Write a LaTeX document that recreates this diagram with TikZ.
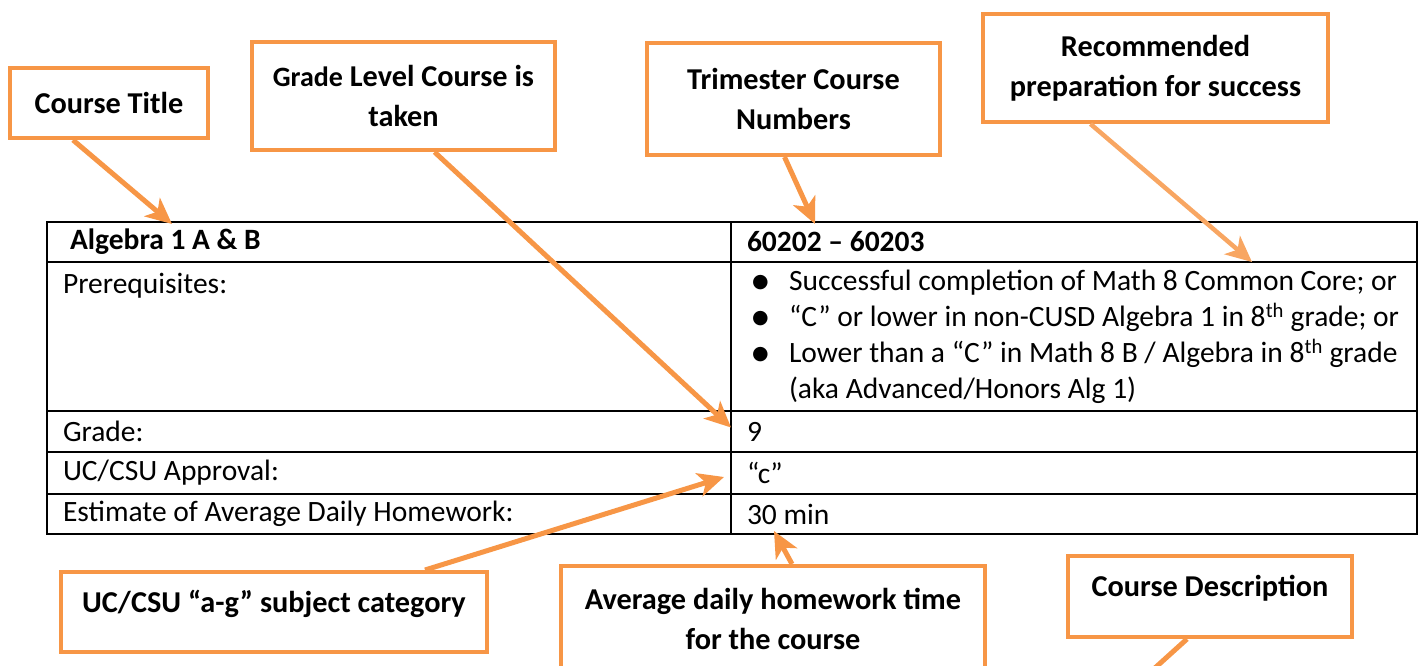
\documentclass[tikz,border=0pt]{standalone}
\usepackage{fontspec}
\setmainfont{Carlito}
\newfontfamily\dotfont{DejaVu Sans}
\usetikzlibrary{positioning, arrows.meta}

\definecolor{calloutorange}{RGB}{247,150,70}
\newcommand{\tablefont}{\fontsize{29.5}{36}\selectfont}
\newcommand{\calloutfont}{\fontsize{30.3}{40}\selectfont\bfseries}
\newcommand{\bul}{\hspace*{5pt}\makebox[37pt][l]{\raisebox{3pt}{\dotfont\fontsize{19}{19}\selectfont ●}}}

\begin{document}
\begin{tikzpicture}[x=1pt, y=-1pt,
cell/.style={draw=black, line width=1.6pt, anchor=north west, inner xsep=16pt, inner ysep=0pt, outer sep=0pt, align=left, font=\tablefont, execute at begin node={\spaceskip=0pt\xspaceskip=0pt}},
leftcell/.style={cell, text width=652pt},
rightcell/.style={cell, text width=654pt},
callout/.style={draw=calloutorange, line width=4pt, fill=white, align=center, font=\calloutfont, execute at begin node={\spaceskip=0pt\xspaceskip=0pt}},
pointer/.style={draw=calloutorange, line width=5pt, -{Stealth[length=26pt, width=24pt, inset=7pt]}},
softpointer/.style={draw=calloutorange!85!white, line width=4.5pt},
]
\clip (0,0) rectangle (1422,666);

%Table
\node[leftcell, minimum height=40pt]  (algebra)   at (47,222)  {\hspace*{7pt}\textbf{Algebra 1 A \& B}};
\node[rightcell, minimum height=40pt] (numbers)   at (731,222) {\textbf{60202 – 60203}};
\node[leftcell, minimum height=149pt, text height=21pt, text depth=108pt] (prereq) at (47,262) {Prerequisites:};
\node[rightcell, minimum height=149pt] (prereqval) at (731,262) {\bul\mbox{Successful completion of Math 8 Common Core; or}\\
\bul\mbox{“C” or lower in non-CUSD Algebra 1 in 8\textsuperscript{th} grade; or}\\
\bul\mbox{Lower than a “C” in Math 8 B / Algebra in 8\textsuperscript{th} grade}\\
\hspace*{42pt}(aka Advanced/Honors Alg 1)};
\node[leftcell, minimum height=41pt]  (grade)     at (47,411)  {Grade:};
\node[rightcell, minimum height=41pt] (gradeval)  at (731,411) {9};
\node[leftcell, minimum height=42pt]  (uc)        at (47,452)  {UC/CSU Approval:};
\node[rightcell, minimum height=42pt] (ucval)     at (731,452) {“c”};
\node[leftcell, minimum height=40pt]  (hw)        at (47,494)  {Estimate of Average Daily Homework:};
\node[rightcell, minimum height=40pt] (hwval)     at (731,494) {30 min};

%Callouts
\node[callout, minimum width=198pt, minimum height=70pt]  (title)     at (109,103)    {Course Title};
\node[callout, minimum width=303pt, minimum height=108pt] (gradelvl)  at (403.5,96)   {{\fontsize{28}{40}\selectfont Grade} Level Course is\\taken};
\node[callout, minimum width=293pt, minimum height=112pt] (trimester) at (793.5,99)   {Trimester Course\\Numbers};
\node[callout, minimum width=345pt, minimum height=108pt] (recommend) at (1155.5,68)  {Recommended\\preparation for success};
\node[callout, minimum width=426pt, minimum height=80pt, text height=20pt, text depth=20pt] (agcat) at (274,612) {UC/CSU “a-g” subject category};
\node[callout, minimum width=424pt, minimum height=106pt] (avghw)     at (773,619)    {Average daily homework time\\for the course};
\node[callout, minimum width=284pt, minimum height=81pt, text height=20pt, text depth=20pt] (desc) at (1210,596.5) {Course Description};
\coordinate (descend) at (1125,695);

%Lines
\draw[pointer] ([xshift=-36pt]title.south) -- ([xshift=125pt,yshift=-2pt]algebra.north west);
\draw[pointer] ([xshift=31pt]gradelvl.south) -- ([yshift=4pt]gradeval.west);
\draw[pointer] ([xshift=-9pt]trimester.south) -- ([xshift=84pt,yshift=-2pt]numbers.north west);
\draw[pointer, softpointer] ([xshift=-65pt]recommend.south) -- ([xshift=521pt]prereqval.north west);
\draw[pointer] ([xshift=151pt]agcat.north) -- ([xshift=-7pt,yshift=-4pt]ucval.west);
\draw[pointer] ([xshift=19pt]avghw.north) -- ([xshift=43pt,yshift=3pt]hwval.south west);
\draw[pointer] ([xshift=-23pt]desc.south) -- (descend);
\end{tikzpicture}
\end{document}
